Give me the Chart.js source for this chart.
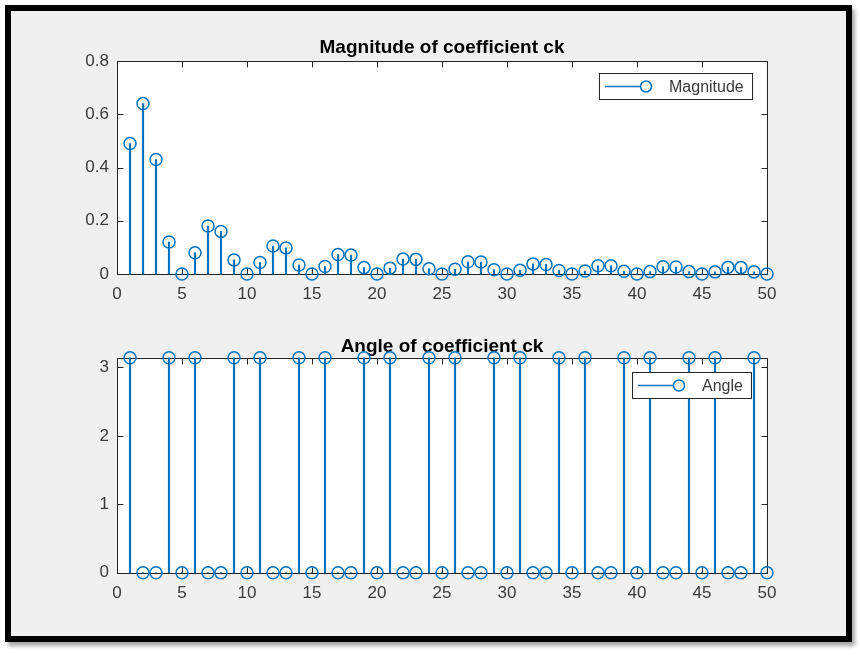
<!DOCTYPE html>
<html>
<head>
<meta charset="utf-8">
<title>Magnitude and angle of coefficient ck</title>
<script src="https://cdn.jsdelivr.net/npm/chart.js@4.4.1/dist/chart.umd.min.js"></script>
<style>
    html, body { margin: 0; padding: 0; background: #fff; }
    body { width: 860px; height: 655px; position: relative; overflow: hidden; }
    .frame {
        position: absolute; left: 5px; top: 5px; width: 847px; height: 637px;
        box-sizing: border-box; border: 6px solid #000; background: #f0f0f0;
        box-shadow: 3px 4px 4px rgba(0, 0, 0, 0.35);
    }
    canvas { position: absolute; left: 0; }
    #chartMag { top: 0; }
    #chartAngle { top: 310px; }
</style>
</head>
<body>
<div class="frame"></div>
<canvas id="chartMag" width="860" height="310"></canvas>
<canvas id="chartAngle" width="860" height="345"></canvas>
<script>
// data
var k = [1, 2, 3, 4, 5, 6, 7, 8, 9, 10,
         11, 12, 13, 14, 15, 16, 17, 18, 19, 20,
         21, 22, 23, 24, 25, 26, 27, 28, 29, 30,
         31, 32, 33, 34, 35, 36, 37, 38, 39, 40,
         41, 42, 43, 44, 45, 46, 47, 48, 49, 50]

var magnitude = [0.49, 0.64, 0.43, 0.12, 0, 0.08, 0.18, 0.16, 0.053, 0,
                 0.043, 0.105, 0.098, 0.034, 0, 0.028, 0.073, 0.071, 0.024, 0,
                 0.022, 0.056, 0.055, 0.02, 0, 0.018, 0.046, 0.045, 0.016, 0,
                 0.014, 0.038, 0.036, 0.013, 0, 0.011, 0.031, 0.031, 0.01, 0,
                 0.009, 0.027, 0.026, 0.009, 0, 0.008, 0.025, 0.024, 0.008, 0]

var angle = [3.1416, 0, 0, 3.1416, 0, 3.1416, 0, 0, 3.1416, 0,
             3.1416, 0, 0, 3.1416, 0, 3.1416, 0, 0, 3.1416, 0,
             3.1416, 0, 0, 3.1416, 0, 3.1416, 0, 0, 3.1416, 0,
             3.1416, 0, 0, 3.1416, 0, 3.1416, 0, 0, 3.1416, 0,
             3.1416, 0, 0, 3.1416, 0, 3.1416, 0, 0, 3.1416, 0]

var kTicks = [0, 5, 10, 15, 20, 25, 30, 35, 40, 45, 50]
var magTicks = [0, 0.2, 0.4, 0.6, 0.8]
var angleTicks = [0, 1, 2, 3]

var blue = '#0072BD'
var axisColor = '#262626'
var labelColor = '#3a3a3a'
var fontFamily = '"Liberation Sans", Arial, Helvetica, sans-serif'

Chart.defaults.font.family = fontFamily

// white plot area, box and inward ticks like matlab
var matlabAxes = {
    id: 'matlabAxes',
    beforeDraw(chart) {
        var a = chart.chartArea
        chart.ctx.save()
        chart.ctx.fillStyle = '#fff'
        chart.ctx.fillRect(a.left, a.top, a.width, a.height)
        chart.ctx.restore()
    },
    beforeDatasetsDraw(chart) {
        var ctx = chart.ctx, a = chart.chartArea
        var sx = chart.scales.x, sy = chart.scales.y
        var len = 6
        var l = Math.round(a.left) + 0.5, r = Math.round(a.right) + 0.5
        var t = Math.round(a.top) + 0.5, b = Math.round(a.bottom) + 0.5
        ctx.save()
        ctx.strokeStyle = axisColor
        ctx.lineWidth = 1
        ctx.strokeRect(l, t, r - l, b - t)
        ctx.beginPath()
        sx.ticks.forEach(function (tk) {
            var px = Math.round(sx.getPixelForValue(tk.value)) + 0.5
            ctx.moveTo(px, b); ctx.lineTo(px, b - len)
            ctx.moveTo(px, t); ctx.lineTo(px, t + len)
        })
        sy.ticks.forEach(function (tk) {
            var py = Math.round(sy.getPixelForValue(tk.value)) + 0.5
            ctx.moveTo(l, py); ctx.lineTo(l + len, py)
            ctx.moveTo(r, py); ctx.lineTo(r - len, py)
        })
        ctx.stroke()
        ctx.restore()
    }
}

// legend box with line + circle sample
var matlabLegend = {
    id: 'matlabLegend',
    afterDraw(chart, args, opts) {
        var ctx = chart.ctx, a = chart.chartArea
        ctx.save()
        ctx.font = '16px ' + fontFamily
        var w = Math.round(70 + ctx.measureText(opts.text).width + 8)
        var h = 26
        var left = Math.round(a.right - opts.right - w)
        var top = Math.round(a.top + opts.top)
        ctx.fillStyle = '#fff'
        ctx.fillRect(left, top, w, h)
        ctx.strokeStyle = axisColor
        ctx.lineWidth = 1
        ctx.strokeRect(left + 0.5, top + 0.5, w, h)
        var cy = top + h / 2 + 0.5
        ctx.strokeStyle = blue
        ctx.lineWidth = 1.5
        ctx.beginPath()
        ctx.moveTo(left + 6, cy)
        ctx.lineTo(left + 41, cy)
        ctx.stroke()
        ctx.beginPath()
        ctx.arc(left + 47, cy, 5.5, 0, 2 * Math.PI)
        ctx.stroke()
        ctx.fillStyle = labelColor
        ctx.textBaseline = 'middle'
        ctx.fillText(opts.text, left + 70, cy + 1)
        ctx.restore()
    }
}

function stemChart(canvasId, values, yTicks, yMax, title, legend, layout) {
    var points = k.map(function (x, i) { return { x: x, y: values[i] } })
    var ctx = document.getElementById(canvasId).getContext('2d')
    return new Chart(ctx, {
        type: 'bar',
        data: {
            datasets: [
                {
                    type: 'scatter',
                    label: legend.text,
                    data: points,
                    borderColor: blue,
                    backgroundColor: 'rgba(0,0,0,0)',
                    pointRadius: 6,
                    pointBorderWidth: 1.5,
                    showLine: false,
                    clip: false
                },
                {
                    type: 'bar',
                    label: legend.text + ' stem',
                    data: points,
                    backgroundColor: blue,
                    borderWidth: 0,
                    barThickness: 1.5,
                    clip: false
                }
            ]
        },
        options: {
            responsive: false,
            animation: false,
            events: [],
            layout: { padding: layout.padding },
            scales: {
                x: {
                    type: 'linear',
                    min: 0,
                    max: 50,
                    offset: false,
                    grid: { display: false, drawTicks: false },
                    border: { display: false },
                    afterBuildTicks: function (s) { s.ticks = kTicks.map(function (v) { return { value: v } }) },
                    afterFit: function (s) { s.height = 28 },
                    ticks: { color: labelColor, font: { size: 17 }, padding: 10, maxRotation: 0,
                             callback: function (v) { return String(v) } }
                },
                y: {
                    type: 'linear',
                    min: 0,
                    max: yMax,
                    grid: { display: false, drawTicks: false },
                    border: { display: false },
                    afterBuildTicks: function (s) { s.ticks = yTicks.map(function (v) { return { value: v } }) },
                    afterFit: function (s) { s.width = 117 },
                    ticks: { color: labelColor, font: { size: 17 }, padding: 8,
                             callback: function (v) { return String(v) } }
                }
            },
            plugins: {
                legend: { display: false },
                tooltip: { enabled: false },
                title: {
                    display: true,
                    text: title,
                    fullSize: false,
                    color: '#000',
                    font: { size: 19, weight: 'bold' },
                    padding: layout.titlePadding
                },
                matlabLegend: legend
            }
        },
        plugins: [matlabAxes, matlabLegend]
    })
}

stemChart('chartMag', magnitude, magTicks, 0.8, 'Magnitude of coefficient ck',
    { text: 'Magnitude', right: 15, top: 12 },
    { padding: { left: 0, right: 93, top: 0, bottom: 8 }, titlePadding: { top: 36, bottom: 2.2 } })

stemChart('chartAngle', angle, angleTicks, 3.1416, 'Angle of coefficient ck',
    { text: 'Angle', right: 16, top: 14 },
    { padding: { left: 0, right: 93, top: 0, bottom: 54.3 }, titlePadding: { top: 25, bottom: 0 } })
</script>
</body>
</html>
